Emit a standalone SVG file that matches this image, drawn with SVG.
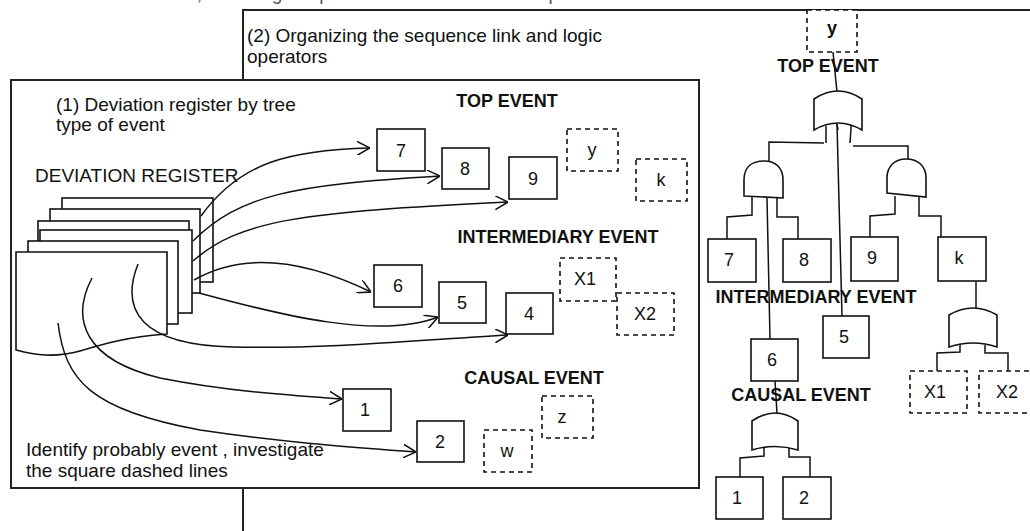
<svg xmlns="http://www.w3.org/2000/svg" width="1030" height="531" viewBox="0 0 1030 531">
<defs>
<style>
.t{font-family:"Liberation Sans",Arial,sans-serif;font-size:18px;fill:#111}
.p{font-family:"Liberation Sans",Arial,sans-serif;font-size:19px;fill:#111}
.b{font-family:"Liberation Sans",Arial,sans-serif;font-size:18px;font-weight:bold;fill:#111}
.c{text-anchor:middle}
.box{fill:#fff;stroke:#111;stroke-width:1.6}
.dash{fill:#fff;stroke:#111;stroke-width:1.6;stroke-dasharray:5,4}
.panel{fill:#fff;stroke:#222;stroke-width:2}
.sheet{fill:#fff;stroke:#111;stroke-width:1.6}
.ln{fill:none;stroke:#111;stroke-width:1.5}
.gate{fill:#fff;stroke:#111;stroke-width:1.6}
</style>
<marker id="arr" viewBox="0 0 13 14" refX="13" refY="7" markerWidth="13" markerHeight="14" markerUnits="userSpaceOnUse" orient="auto">
<path d="M0,0 L13,7 L0,14" fill="none" stroke="#111" stroke-width="1.5"/>
</marker>
</defs>
<rect width="1030" height="531" fill="#fff"/>
<text class="p" x="-4" y="0" style="fill:#555">evaluation of the events, selecting the probable causes and the top event</text>

<g id="panel2">
<rect class="panel" x="243" y="10" width="820" height="560" style="fill:none"/>
<text class="p" x="247" y="42">(2) Organizing the sequence link and logic</text>
<text class="p" x="247" y="63">operators</text>
</g>

<g id="panel1">
<rect class="panel" x="11" y="80" width="688" height="408"/>
<text class="p" x="56" y="111">(1) Deviation register by tree</text>
<text class="p" x="56" y="131">type of event</text>
<text class="p" x="35" y="182">DEVIATION REGISTER</text>
<text class="b c" x="507" y="107">TOP EVENT</text>
<text class="b c" x="558" y="243">INTERMEDIARY EVENT</text>
<text class="b c" x="534" y="384">CAUSAL EVENT</text>
<text class="p" x="26" y="456">Identify probably event , investigate</text>
<text class="p" x="26" y="477">the square dashed lines</text>
</g>

<g id="register">
<rect class="sheet" x="62" y="198" width="151" height="84"/>
<rect class="sheet" x="50" y="209" width="150" height="84"/>
<rect class="sheet" x="38" y="221" width="151" height="80"/>
<rect class="sheet" x="40" y="230" width="152" height="83"/>
<rect class="sheet" x="28" y="241" width="150" height="83"/>
<path class="sheet" d="M16,252 H167 V334 C130,336 100,345 80,351 C55,358 35,355 16,350 Z"/>
</g>

<g id="left-nodes">
<g id="n7"><rect class="box" x="377" y="129" width="48" height="42"/><text class="t c" x="401" y="157">7</text></g>
<g id="n8"><rect class="box" x="442" y="148" width="47" height="41"/><text class="t c" x="465" y="175">8</text></g>
<g id="n9"><rect class="box" x="509" y="157" width="48" height="42"/><text class="t c" x="533" y="185">9</text></g>
<g id="ny"><rect class="dash" x="567" y="129" width="51" height="42"/><text class="t c" x="592" y="156">y</text></g>
<g id="nk"><rect class="dash" x="636" y="159" width="51" height="42"/><text class="t c" x="661" y="186">k</text></g>
<g id="n6"><rect class="box" x="374" y="265" width="48" height="42"/><text class="t c" x="398" y="292">6</text></g>
<g id="n5"><rect class="box" x="439" y="282" width="47" height="41"/><text class="t c" x="462" y="309">5</text></g>
<g id="n4"><rect class="box" x="506" y="293" width="47" height="41"/><text class="t c" x="529" y="320">4</text></g>
<g id="nX1"><rect class="dash" x="560" y="258" width="56" height="43"/><text class="t c" x="585" y="285">X1</text></g>
<g id="nX2"><rect class="dash" x="617" y="293" width="57" height="42"/><text class="t c" x="645" y="320">X2</text></g>
<g id="n1"><rect class="box" x="343" y="389" width="48" height="42"/><text class="t c" x="365" y="416">1</text></g>
<g id="n2"><rect class="box" x="417" y="421" width="47" height="41"/><text class="t c" x="440" y="448">2</text></g>
<g id="nw"><rect class="dash" x="484" y="430" width="48" height="42"/><text class="t c" x="507" y="457">w</text></g>
<g id="nz"><rect class="dash" x="542" y="396" width="51" height="42"/><text class="t c" x="562" y="423">z</text></g>
</g>

<g id="left-connectors">
<path class="ln" marker-end="url(#arr)" d="M201,216 C240,162 290,150 370,148"/>
<path class="ln" marker-end="url(#arr)" d="M193,241 C240,195 290,185 440,176"/>
<path class="ln" marker-end="url(#arr)" d="M193,261 C240,220 300,212 508,202"/>
<path class="ln" marker-end="url(#arr)" d="M194,280 C225,262 280,248 371,292"/>
<path class="ln" marker-end="url(#arr)" d="M199,293 C280,315 380,340 438,317"/>
<path class="ln" marker-end="url(#arr)" d="M138,264 C120,310 140,345 233,347 C330,349 420,340 508,335"/>
<path class="ln" marker-end="url(#arr)" d="M92,278 C70,320 85,360 160,378 C230,392 300,396 342,399"/>
<path class="ln" marker-end="url(#arr)" d="M58,323 C65,380 90,410 200,430 C280,442 350,447 416,452"/>
</g>

<g id="tree-labels">
<text class="b c" x="828" y="72">TOP EVENT</text>
<text class="b c" x="816" y="303">INTERMEDIARY EVENT</text>
<text class="b c" x="801" y="401">CAUSAL EVENT</text>
</g>

<g id="tree-connectors">
<path class="ln" d="M833,52 L837,92"/>
<path class="ln" d="M837,124 L842,316"/>
<path class="ln" d="M826,129 L826,143 M824,143 L769,142 L769,161"/>
<path class="ln" d="M851,128 L850,143 M853,146 L908,146 L908,159"/>
<path class="ln" d="M752,197 L752,215 L727,217 L727,239"/>
<path class="ln" d="M777,198 L777,217 L798,217 L798,239"/>
<path class="ln" d="M767,198 L770,339"/>
<path class="ln" d="M895,196 L895,214 L870,216 L870,237"/>
<path class="ln" d="M919,197 L919,216 L941,216 L941,237"/>
<path class="ln" d="M976,281 L976,308"/>
<path class="ln" d="M960,343 L960,352 L937,353 L937,371"/>
<path class="ln" d="M985,345 L985,353 L1008,353 L1008,371"/>
<path class="ln" d="M775,381 L777,413"/>
<path class="ln" d="M764,447 L764,456 L740,458 L740,477"/>
<path class="ln" d="M789,447 L789,457 L810,457 L810,477"/>
</g>

<g id="tree-gates">
<path id="or-top" class="gate" d="M814,130 V99 Q838,83 862,99 V130 Q838,116 814,130 Z"/>
<path id="and-left" class="gate" d="M744,196 L744,180 C744,167 752,161 764,161 C776,161 783,168 783,180 L783,198 Z"/>
<path id="and-right" class="gate" d="M887,193 L887,178 C887,166 895,159 906,159 C918,159 926,166 926,178 L926,197 Z"/>
<path id="or-k" class="gate" d="M949,347 V315 Q973,301 997,315 V347 Q973,339 949,347 Z"/>
<path id="or-6" class="gate" d="M752,450 V421 Q775,405 798,421 V450 Q775,443 752,450 Z"/>
<path class="ln" d="M837,124 L838,130 M826,126 L826,129 M851,125 L851,128"/>
</g>

<g id="tree-nodes">
<g id="ty"><rect class="dash" x="807" y="10" width="50" height="42"/><text class="b c" x="832" y="34">y</text></g>
<g id="t7"><rect class="box" x="708" y="239" width="48" height="43"/><text class="t c" x="729" y="266">7</text></g>
<g id="t8"><rect class="box" x="783" y="239" width="48" height="43"/><text class="t c" x="804" y="266">8</text></g>
<g id="t9"><rect class="box" x="851" y="237" width="47" height="44"/><text class="t c" x="872" y="264">9</text></g>
<g id="tk"><rect class="box" x="938" y="237" width="48" height="44"/><text class="t c" x="959" y="264">k</text></g>
<g id="t5"><rect class="box" x="823" y="316" width="46" height="42"/><text class="t c" x="844" y="343">5</text></g>
<g id="t6"><rect class="box" x="751" y="339" width="47" height="42"/><text class="t c" x="772" y="366">6</text></g>
<g id="tX1"><rect class="dash" x="910" y="371" width="57" height="42"/><text class="t c" x="935" y="398">X1</text></g>
<g id="tX2"><rect class="dash" x="979" y="371" width="57" height="42"/><text class="t c" x="1007" y="398">X2</text></g>
<g id="t1"><rect class="box" x="716" y="477" width="47" height="42"/><text class="t c" x="737" y="504">1</text></g>
<g id="t2"><rect class="box" x="783" y="477" width="48" height="42"/><text class="t c" x="804" y="504">2</text></g>
</g>
</svg>
